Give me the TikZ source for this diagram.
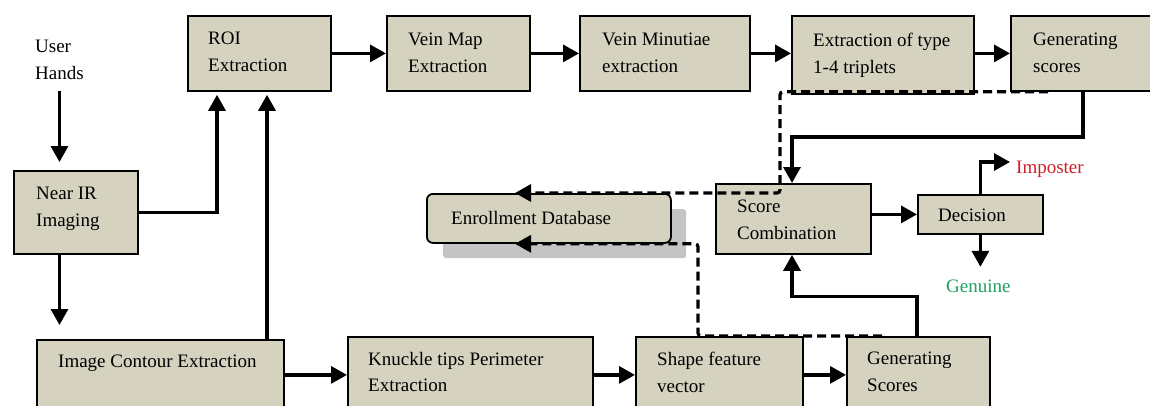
\documentclass[tikz,border=0pt]{standalone}
\usepackage{fontspec}
\setmainfont{Liberation Serif}
\usetikzlibrary{arrows.meta,calc}
\definecolor{boxfill}{RGB}{214,210,192}
\definecolor{shadowgray}{RGB}{196,196,196}
\definecolor{impred}{RGB}{204,32,40}
\definecolor{gengreen}{RGB}{30,160,100}

\begin{document}
\begin{tikzpicture}[x=1pt,y=-1pt,
  blk/.style={draw=black, line width=1.8pt, fill=boxfill, anchor=north west, inner sep=0pt},
  dbbox/.style={blk, rounded corners=6pt},
  shadowbox/.style={fill=shadowgray, anchor=north west, inner sep=0pt, rounded corners=3pt},
  txt/.style={anchor=north west, inner sep=0pt, align=left, font=\fontsize{19}{26.5}\selectfont},
  flow/.style={line width=3.2pt, -{Triangle[length=16pt,width=17pt]}},
  feed/.style={line width=3.2pt, dash pattern=on 9pt off 5pt, rounded corners=3pt,
               -{Triangle[length=16pt,width=17pt]}},
]
\useasboundingbox (0,0) rectangle (1150,405);
\clip (0,0) rectangle (1150,405);
\fill[white] (0,0) rectangle (1150,405);

% ---------- blocks ----------
\node[blk, minimum width=143pt, minimum height=75pt] (roi)  at (187,15) {};
\node[blk, minimum width=143pt, minimum height=75pt] (vmap) at (386,15) {};
\node[blk, minimum width=170pt, minimum height=75pt] (vmin) at (579,15) {};
\node[blk, minimum width=182pt, minimum height=78pt] (ext)  at (791,15) {};
\node[blk, minimum width=160pt, minimum height=75pt] (gen)  at (1010,15) {};
\node[blk, minimum width=124pt, minimum height=83pt] (nir)  at (13,170) {};
\node[blk, minimum width=247pt, minimum height=70pt] (ic)   at (36,339) {};
\node[blk, minimum width=245pt, minimum height=76pt] (knk)  at (347,336) {};
\node[blk, minimum width=167pt, minimum height=76pt] (sfv)  at (635,336) {};
\node[blk, minimum width=143pt, minimum height=76pt] (gs2)  at (846,336) {};
\node[blk, minimum width=155pt, minimum height=70pt] (sc)   at (715,183) {};
\node[blk, minimum width=125pt, minimum height=39pt] (dec)  at (917,194) {};
\node[shadowbox, minimum width=243pt, minimum height=49pt] (edbShadow) at (443,209) {};
\node[dbbox, minimum width=244pt, minimum height=49pt] (edb) at (426,193) {};

% ---------- helper points ----------
\coordinate (roiIn1) at ($(roi.south west)+(30,0)$);
\coordinate (roiIn2) at ($(roi.south west)+(80,0)$);
\coordinate (genOut) at ($(gen.south west)+(73,0)$);
\coordinate (scIn)   at ($(sc.north west)+(77,0)$);
\coordinate (gs2Out) at ($(gs2.north west)+(71,0)$);
\coordinate (scIn2)  at ($(sc.south west)+(77,0)$);
\coordinate (impTip) at (1010,162);
\coordinate (genTip) at ($(dec.south)+(0,32)$);
\coordinate (dbTop)  at ($(edb.north west)+(89,0)$);
\coordinate (dbBot)  at ($(edb.south west)+(89,0)$);
\coordinate (fbA)    at ($(gen.south west)+(38,0)$);
\coordinate (fbB)    at ($(sc.north west)+(65,10)$);
\coordinate (fbC)    at ($(gs2.north west)+(36,0)$);
\coordinate (fbD)    at ($(sfv.north west)+(63,0)$);

% ---------- labels ----------
\node[txt] (hands) at (35,40)   {User\\Hands};
\node[txt] (roiT)  at (208,32)  {ROI\\Extraction};
\node[txt] (vmapT) at (408,33)  {Vein Map\\Extraction};
\node[txt] (vminT) at (602,33)  {Vein Minutiae\\extraction};
\node[txt] (extT)  at (813,33)  {Extraction of type\\1-4 triplets};
\node[txt] (genT)  at (1033,33) {Generating\\scores};
\node[txt] (nirT)  at (36,187)  {Near IR\\Imaging};
\node[txt] (icT)   at (58,355)  {Image Contour Extraction};
\node[txt] (knkT)  at (368,352) {Knuckle tips Perimeter\\Extraction};
\node[txt] (sfvT)  at (657,352) {Shape feature\\vector};
\node[txt] (gs2T)  at (867,352) {Generating\\Scores};
\node[txt] (scT)   at (737,200) {Score\\Combination};
\node[txt] (decT)  at (938,209) {Decision};
\node[txt] (edbT)  at (451,211) {Enrollment Database};
\node[txt, text=impred]   (imp)  at (1016,161) {Imposter};
\node[txt, text=gengreen] (genu) at (946,280)  {Genuine};

% ---------- solid connectors ----------
\draw[flow] (roi.east) -- (vmap.west);
\draw[flow] (vmap.east) -- (vmin.west);
\draw[flow] (vmin.east) -- (vmin.east -| ext.west);
\draw[flow] (gen.west -| ext.east) -- (gen.west);
\draw[flow, shorten <=11pt, shorten >=8pt] (hands.south) -- (hands.south |- nir.north);
\draw[flow, shorten >=14pt] (hands.south |- nir.south) -- (hands.south |- ic.north);
\draw[flow, shorten >=3pt] (nir.east) -| (roiIn1);
\draw[flow, shorten >=3pt] (roiIn2 |- ic.north) -- (roiIn2);
\draw[flow] (ic.east) -- (knk.west |- ic.east);
\draw[flow] (knk.east) -- (sfv.west);
\draw[flow] (sfv.east) -- (gs2.west);
\draw[flow] (genOut) |- ($(scIn)+(0,-46)$) -- (scIn);
\draw[flow] (gs2Out) |- ($(scIn2)+(0,42)$) -- (scIn2);
\draw[flow] (dec.west -| sc.east) -- (dec.west);
\draw[flow] (dec.north) |- (impTip);
\draw[flow] (dec.south) -- (genTip);

% ---------- dashed links to the database ----------
\draw[feed] (fbA) -| (fbB) -- (dbTop);
\draw[feed] (fbC) -- (fbD) |- (dbBot);
\end{tikzpicture}
\end{document}
